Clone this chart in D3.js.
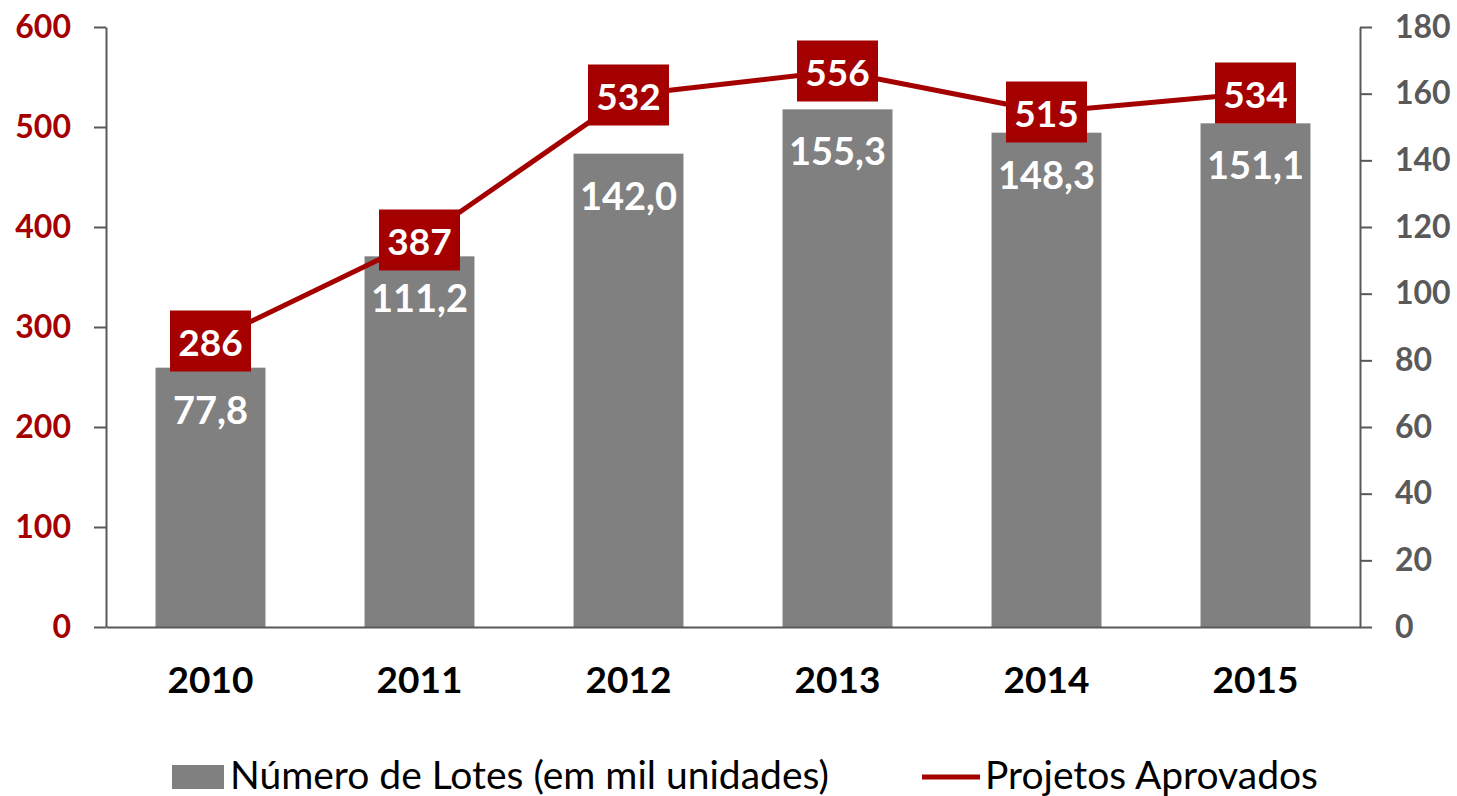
<!DOCTYPE html>
<html>
<head>
<meta charset="utf-8">
<script src="https://cdn.jsdelivr.net/npm/d3@7"></script>
<style>
  html, body { margin: 0; padding: 0; background: #fff; }
  svg { display: block; font-family: Lato, "Open Sans", sans-serif; }
</style>
</head>
<body>
<svg id="chart" width="1457" height="796"></svg>
<script>
const categories = ["2010", "2011", "2012", "2013", "2014", "2015"];
const lotes = [77.8, 111.2, 142.0, 155.3, 148.3, 151.1];
const projetos = [286, 387, 532, 556, 515, 534];
const leftTicks = [0, 100, 200, 300, 400, 500, 600];
const rightTicks = [0, 20, 40, 60, 80, 100, 120, 140, 160, 180];
const seriesNames = ["Número de Lotes (em mil unidades)", "Projetos Aprovados"];

const RED = "#A50000", GRAY = "#808080", AXIS = "#595959";
const svg = d3.select("#chart");
const pLeft = 106, pRight = 1360, pTop = 27, pBottom = 627;

const x = d3.scaleBand().domain(categories).range([pLeft, pRight]).paddingInner(0.474).paddingOuter(0.237);
const yL = d3.scaleLinear().domain([0, 600]).range([pBottom, pTop]);
const yR = d3.scaleLinear().domain([0, 180]).range([pBottom, pTop]);
const fmt = v => d3.format(".1f")(v).replace(".", ",");

// bars
svg.append("g").selectAll("rect").data(lotes).join("rect")
  .attr("x", (d, i) => x(categories[i]))
  .attr("width", x.bandwidth())
  .attr("y", d => yR(d))
  .attr("height", d => pBottom - yR(d))
  .attr("fill", GRAY);

svg.append("g").selectAll("text").data(lotes).join("text")
  .attr("x", (d, i) => x(categories[i]) + x.bandwidth() / 2)
  .attr("y", d => yR(d) + 41)
  .attr("text-anchor", "middle").attr("dominant-baseline", "central")
  .attr("fill", "#fff").attr("font-weight", 700).attr("font-size", 38)
  .text(fmt);

// axes
const gL = svg.append("g").attr("transform", `translate(${pLeft},0)`)
  .call(d3.axisLeft(yL).tickValues(leftTicks).tickSize(12).tickPadding(23).tickSizeOuter(0));
gL.selectAll("text").attr("fill", RED).attr("font-size", 32).attr("font-weight", 700).attr("font-family", "Lato");
const gR = svg.append("g").attr("transform", `translate(${pRight},0)`)
  .call(d3.axisRight(yR).tickValues(rightTicks).tickSize(12).tickPadding(23).tickSizeOuter(0));
gR.selectAll("text").attr("fill", AXIS).attr("font-size", 32).attr("font-weight", 700).attr("font-family", "Lato");
const gX = svg.append("g").attr("transform", `translate(0,${pBottom})`)
  .call(d3.axisBottom(x).tickSize(0).tickPadding(40).tickSizeOuter(0));
gX.selectAll("text").attr("fill", "#000").attr("font-size", 37).attr("font-weight", 700).attr("font-family", "Lato");
[gL, gR, gX].forEach(g => {
  g.selectAll("path.domain").attr("stroke", AXIS).attr("stroke-width", 2);
  g.selectAll("line").attr("stroke", AXIS).attr("stroke-width", 2);
});

// line
const cx = i => x(categories[i]) + x.bandwidth() / 2;
svg.append("path").datum(projetos)
  .attr("fill", "none").attr("stroke", RED).attr("stroke-width", 5)
  .attr("d", d3.line().x((d, i) => cx(i)).y(d => yL(d)));

const boxes = svg.append("g").selectAll("g").data(projetos).join("g")
  .attr("transform", (d, i) => `translate(${cx(i)},${yL(d)})`);
boxes.append("rect").attr("x", -40.5).attr("y", -30.5).attr("width", 81).attr("height", 61).attr("fill", RED);
boxes.append("text").attr("text-anchor", "middle").attr("dominant-baseline", "central")
  .attr("fill", "#fff").attr("font-weight", 700).attr("font-size", 37).text(d => d);

// legend
const lg = svg.append("g");
lg.append("rect").attr("x", 172).attr("y", 765).attr("width", 52).attr("height", 24).attr("fill", GRAY);
lg.append("text").attr("x", 230).attr("y", 789).attr("font-size", 39).attr("fill", "#000").text(seriesNames[0]);
lg.append("line").attr("x1", 922).attr("x2", 980).attr("y1", 777).attr("y2", 777).attr("stroke", RED).attr("stroke-width", 5);
lg.append("text").attr("x", 985).attr("y", 789).attr("font-size", 39).attr("fill", "#000").text(seriesNames[1]);
</script>
</body>
</html>
